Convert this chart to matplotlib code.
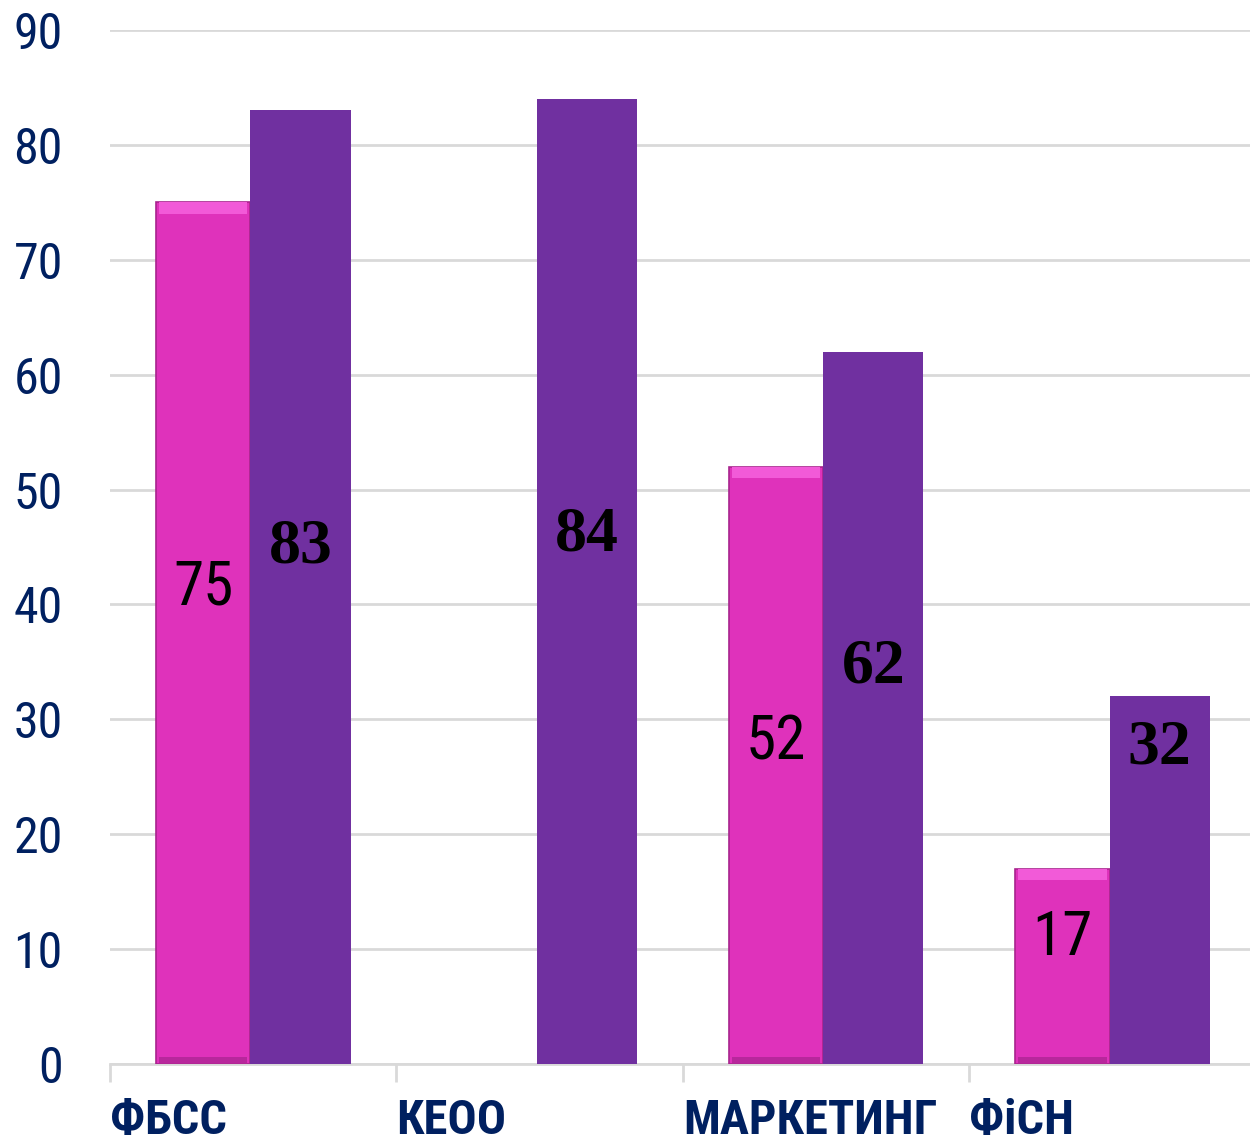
import numpy as np
import matplotlib.pyplot as plt
from matplotlib import font_manager as fm

categories = ['ФБСС', 'КЕОО', 'МАРКЕТИНГ', 'ФіСН']
series_a = [75, 0, 52, 17]      # pink bars (0 = no bar)
series_b = [83, 84, 62, 32]     # purple bars
label_a_y = [41.5, None, 28.0, 11.0]
label_b_y = [45.0, 46.0, 34.5, 27.5]

navy = '#002060'
pink = '#DF32BB'
purple = '#7030A0'

# pick a narrow sans face if one is available
fonts = fm.fontManager.ttflist
names = {f.name for f in fonts}
narrow_stretch = 'normal'
if 'Liberation Sans Narrow' in names:
    narrow_family = 'Liberation Sans Narrow'
elif 'Roboto Condensed' in names:
    narrow_family = 'Roboto Condensed'
elif any(f.name == 'DejaVu Sans' and f.stretch == 'condensed' for f in fonts):
    narrow_family = 'DejaVu Sans'
    narrow_stretch = 'condensed'
else:
    narrow_family = 'Roboto'
narrow = [narrow_family, 'DejaVu Sans']

fig = plt.figure(figsize=(12.5, 11.44), dpi=100)
ax = fig.add_axes([0.088, 0.0699, 0.912, 0.9039])

x = np.arange(len(categories))
xa = x - 0.175
xb = x + 0.165

has_a = [v > 0 for v in series_a]
va = [v for v in series_a if v > 0]
pa = xa[has_a]

# pink bars with a light bevel look
ax.bar(pa, va, width=0.33, color=pink, edgecolor='#A8248E', linewidth=1.2, zorder=3)
ax.bar(pa, [1.0] * len(va), bottom=[v - 1.0 for v in va], width=0.31,
       color='#F25AD8', linewidth=0, zorder=4)
ax.bar(pa, [0.6] * len(va), bottom=[0.05] * len(va), width=0.31,
       color='#B8279C', linewidth=0, zorder=4)
ax.bar(xb, series_b, width=0.35, color=purple, linewidth=0, zorder=3)

for xi, v, ly in zip(xa, series_a, label_a_y):
    if v > 0:
        ax.text(xi, ly, str(v), ha='center', va='center', fontsize=44,
                family=narrow, stretch=narrow_stretch, color='black', zorder=5)
for xi, v, ly in zip(xb, series_b, label_b_y):
    ax.text(xi, ly, str(v), ha='center', va='center', fontsize=46,
            family='Liberation Serif', fontweight='bold', color='black', zorder=5)

ax.set_ylim(0, 90)
ax.set_xlim(-0.5, 3.48)
ax.set_yticks(range(0, 91, 10))
ax.yaxis.grid(True, color='#D9D9D9', linewidth=2)
ax.set_axisbelow(True)

for s in ['top', 'right', 'left']:
    ax.spines[s].set_visible(False)
ax.spines['bottom'].set_color('#D9D9D9')
ax.spines['bottom'].set_linewidth(2)

ax.set_xticks(np.arange(len(categories)) - 0.5)
ax.set_xticklabels([])
ax.tick_params(axis='x', length=13, width=2, color='#D9D9D9')
ax.tick_params(axis='y', length=0, pad=34, labelcolor=navy, labelsize=36)
for lab in ax.get_yticklabels():
    lab.set_family(narrow)
    lab.set_stretch(narrow_stretch)

for i, c in enumerate(categories):
    ax.text(i - 0.5, -5.0, c, ha='left', va='center', fontsize=35,
            family=narrow, stretch=narrow_stretch, fontweight='bold',
            color=navy, clip_on=False)

fig.savefig('out.png', dpi=100)
